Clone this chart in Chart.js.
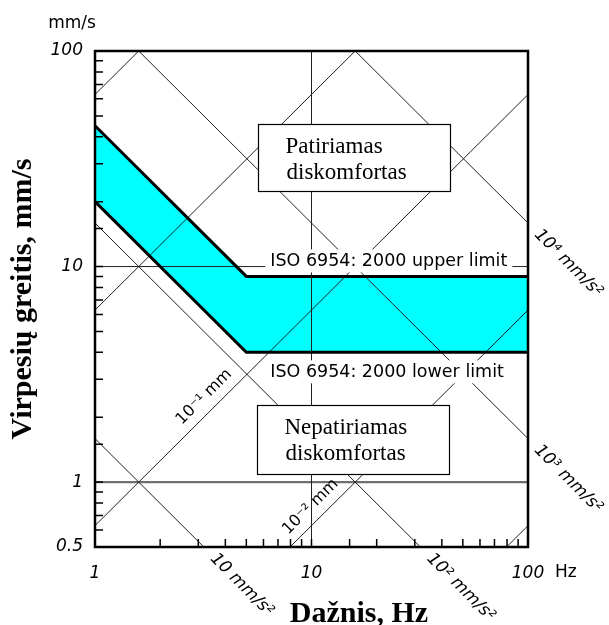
<!DOCTYPE html>
<html>
<head>
<meta charset="utf-8">
<script src="https://cdn.jsdelivr.net/npm/chart.js@4.4.0/dist/chart.umd.min.js"></script>
<style>
    html, body { margin:0; padding:0; background:#ffffff; }
    #caja { width:609px; height:625px; }
</style>
</head>
<body>
<div id="caja"><canvas id="graficoVirpesiai" width="609" height="625"></canvas></div>
<script>

// Datos

const freqKnots = [1, 5, 100];                 // Hz
const upperLimit = [45, 9, 9];                 // mm/s, ISO 6954 upper limit
const lowerLimit = [20, 4, 4];                 // mm/s, ISO 6954 lower limit

const accelLevels = [10, 100, 1000, 10000];    // mm/s²
const accelLabels = ["10 mm/s²", "10² mm/s²", "10³ mm/s²", "10⁴ mm/s²"];

const dispLevels = [0.001, 0.01, 0.1, 1, 10];  // mm
const dispLabels = ["", "10⁻² mm", "10⁻¹ mm", "", ""];

const gridFreq = [10];                         // Hz
const gridVel = [1, 10];                       // mm/s

const xTickLabels = [1, 10, 100];
const yTickLabels = [0.5, 1, 10, 100];

// Helpers

const pts = (xs, ys) => xs.map((x, i) => ({ x: x, y: ys[i] }));

const showLabel = (value, list) =>
    list.some(t => Math.abs(t - value) < t * 1e-6) ? String(value) : "";

// constant acceleration: v = a / (2 pi f), constant displacement: v = 2 pi f d
const accelLine = a => [{ x: 1, y: a / (2 * Math.PI) }, { x: 100, y: a / (200 * Math.PI) }];
const dispLine = d => [{ x: 1, y: 2 * Math.PI * d }, { x: 100, y: 200 * Math.PI * d }];

const thin = { borderColor: "#222222", borderWidth: 1, pointRadius: 0, fill: false };

// Plugin: texts, boxes, frame and inner ticks

const extras = {

    id: "extras",

    afterDatasetsDraw(chart) {

        const ctx = chart.ctx;
        const area = chart.chartArea;
        const xs = chart.scales.x;
        const ys = chart.scales.y;

        ctx.save();

        // diagonal labels: acceleration (outside, along the line)
        ctx.font = "italic 17px 'DejaVu Sans'";
        ctx.fillStyle = "#000";
        ctx.textAlign = "left";
        ctx.textBaseline = "middle";
        accelLevels.forEach((a, i) => {
            const k = a / (2 * Math.PI);
            let px, py;
            if (k / 100 >= 0.5) {
                px = area.right;
                py = ys.getPixelForValue(k / 100);
            } else {
                px = xs.getPixelForValue(k / 0.5);
                py = area.bottom;
            }
            ctx.save();
            ctx.translate(px + 9, py + 9);
            ctx.rotate(Math.PI / 4);
            ctx.fillText(accelLabels[i], 0, 0);
            ctx.restore();
        });

        // diagonal labels: displacement (inside, above the line)
        const dispAt = [null, 11.0, 3.55, null, null];
        ctx.font = "16px 'DejaVu Sans'";
        ctx.textAlign = "center";
        dispLevels.forEach((d, i) => {
            if (!dispLabels[i]) return;
            const f = dispAt[i];
            const px = xs.getPixelForValue(f) - 10;
            const py = ys.getPixelForValue(2 * Math.PI * d * f) - 10;
            ctx.save();
            ctx.translate(px, py);
            ctx.rotate(-Math.PI / 4);
            ctx.fillText(dispLabels[i], 0, 0);
            ctx.restore();
        });

        // ISO labels with white background
        ctx.font = "17.5px 'DejaVu Sans'";
        ctx.textAlign = "left";
        ctx.textBaseline = "alphabetic";
        const isoLabels = [
            { text: "ISO 6954: 2000 upper limit", v: upperLimit[2], dy: -10 },
            { text: "ISO 6954: 2000 lower limit", v: lowerLimit[2], dy: 25 }
        ];
        isoLabels.forEach(l => {
            const x = xs.getPixelForValue(6.45);
            const y = ys.getPixelForValue(l.v) + l.dy;
            const w = ctx.measureText(l.text).width;
            ctx.fillStyle = "#fff";
            ctx.fillRect(x - 5, y - 17, w + 10, 23);
            ctx.fillStyle = "#000";
            ctx.fillText(l.text, x, y);
        });

        // comfort boxes
        const notes = [
            { lines: ["Patiriamas", "diskomfortas"], f: [5.66, 43.6], v: [45.8, 22.4] },
            { lines: ["Nepatiriamas", "diskomfortas"], f: [5.62, 43.2], v: [2.28, 1.09] }
        ];
        ctx.font = "23px 'Liberation Serif'";
        notes.forEach(n => {
            const x0 = Math.round(xs.getPixelForValue(n.f[0])) + 0.5;
            const x1 = Math.round(xs.getPixelForValue(n.f[1])) + 0.5;
            const y0 = Math.round(ys.getPixelForValue(n.v[0])) + 0.5;
            const y1 = Math.round(ys.getPixelForValue(n.v[1])) + 0.5;
            ctx.fillStyle = "#fff";
            ctx.fillRect(x0, y0, x1 - x0, y1 - y0);
            ctx.strokeStyle = "#000";
            ctx.lineWidth = 1.2;
            ctx.strokeRect(x0, y0, x1 - x0, y1 - y0);
            ctx.fillStyle = "#000";
            ctx.fillText(n.lines[0], x0 + 27, y0 + 28);
            ctx.fillText(n.lines[1], x0 + 28, y0 + 54);
        });

        // inner minor ticks (left and bottom)
        ctx.strokeStyle = "#000";
        ctx.lineWidth = 1.5;
        ctx.beginPath();
        xs.ticks.forEach(t => {
            const x = xs.getPixelForValue(t.value);
            if (x <= area.left + 1 || x >= area.right - 1) return;
            ctx.moveTo(x, area.bottom);
            ctx.lineTo(x, area.bottom - 8);
        });
        ys.ticks.forEach(t => {
            const y = ys.getPixelForValue(t.value);
            if (y <= area.top + 1 || y >= area.bottom - 1) return;
            ctx.moveTo(area.left, y);
            ctx.lineTo(area.left + 8, y);
        });
        ctx.stroke();

        // frame
        ctx.lineWidth = 2.5;
        ctx.strokeRect(area.left, area.top, area.right - area.left, area.bottom - area.top);

        // units and x title
        ctx.fillStyle = "#000";
        ctx.font = "17px 'DejaVu Sans'";
        ctx.textBaseline = "middle";
        ctx.textAlign = "center";
        ctx.fillText("mm/s", 72, 24);
        ctx.textAlign = "left";
        ctx.fillText("Hz", area.right + 27, area.bottom + 26);

        ctx.font = "bold 30px 'Liberation Serif'";
        ctx.textAlign = "center";
        ctx.textBaseline = "alphabetic";
        ctx.fillText("Dažnis, Hz", 359, 622);

        ctx.restore();
    }

};

// Crear gráfico

const ctx = document.getElementById("graficoVirpesiai");

new Chart(ctx, {

    type: "line",

    data: {

        datasets: [

            {
                label: "upper",
                data: pts(freqKnots, upperLimit),
                borderColor: "#000",
                borderWidth: 3,
                pointRadius: 0,
                fill: "+1",
                backgroundColor: "#00ffff"
            },

            {
                label: "lower",
                data: pts(freqKnots, lowerLimit),
                borderColor: "#000",
                borderWidth: 3,
                pointRadius: 0,
                fill: false
            },

            ...accelLevels.map(a => Object.assign({ data: accelLine(a) }, thin)),

            ...dispLevels.map(d => Object.assign({ data: dispLine(d) }, thin)),

            ...gridFreq.map(f => Object.assign({ data: [{ x: f, y: 0.5 }, { x: f, y: 100 }] }, thin)),

            ...gridVel.map(v => Object.assign({ data: [{ x: 1, y: v }, { x: 100, y: v }] }, thin,
                v === 1 ? { borderColor: "#6f6f6f", borderWidth: 2.2 } : {}))

        ]

    },

    options: {

        responsive: false,
        animation: false,

        layout: {
            padding: { top: 51, right: 81, bottom: 0, left: 0 }
        },

        plugins: {
            legend: { display: false },
            tooltip: { enabled: false },
            filler: { drawTime: "beforeDatasetsDraw" }
        },

        scales: {

            x: {
                type: "logarithmic",
                min: 1,
                max: 100,
                grid: { display: false, drawTicks: false },
                border: { display: false },
                ticks: {
                    autoSkip: false,
                    maxRotation: 0,
                    padding: 16,
                    color: "#000",
                    font: { family: "'DejaVu Sans'", style: "italic", size: 17 },
                    callback: v => showLabel(v, xTickLabels)
                },
                afterFit: s => { s.height = 78; }
            },

            y: {
                type: "logarithmic",
                min: 0.5,
                max: 100,
                grid: { display: false, drawTicks: false },
                border: { display: false },
                ticks: {
                    autoSkip: false,
                    padding: 12,
                    color: "#000",
                    font: { family: "'DejaVu Sans'", style: "italic", size: 17 },
                    callback: v => showLabel(v, yTickLabels)
                },
                title: {
                    display: true,
                    text: "Virpesių greitis, mm/s",
                    color: "#000",
                    font: { family: "'Liberation Serif'", weight: "bold", size: 30 },
                    padding: { top: 5, bottom: 0 }
                },
                afterFit: s => { s.width = 95; }
            }

        }

    },

    plugins: [extras]

});

</script>
</body>
</html>
